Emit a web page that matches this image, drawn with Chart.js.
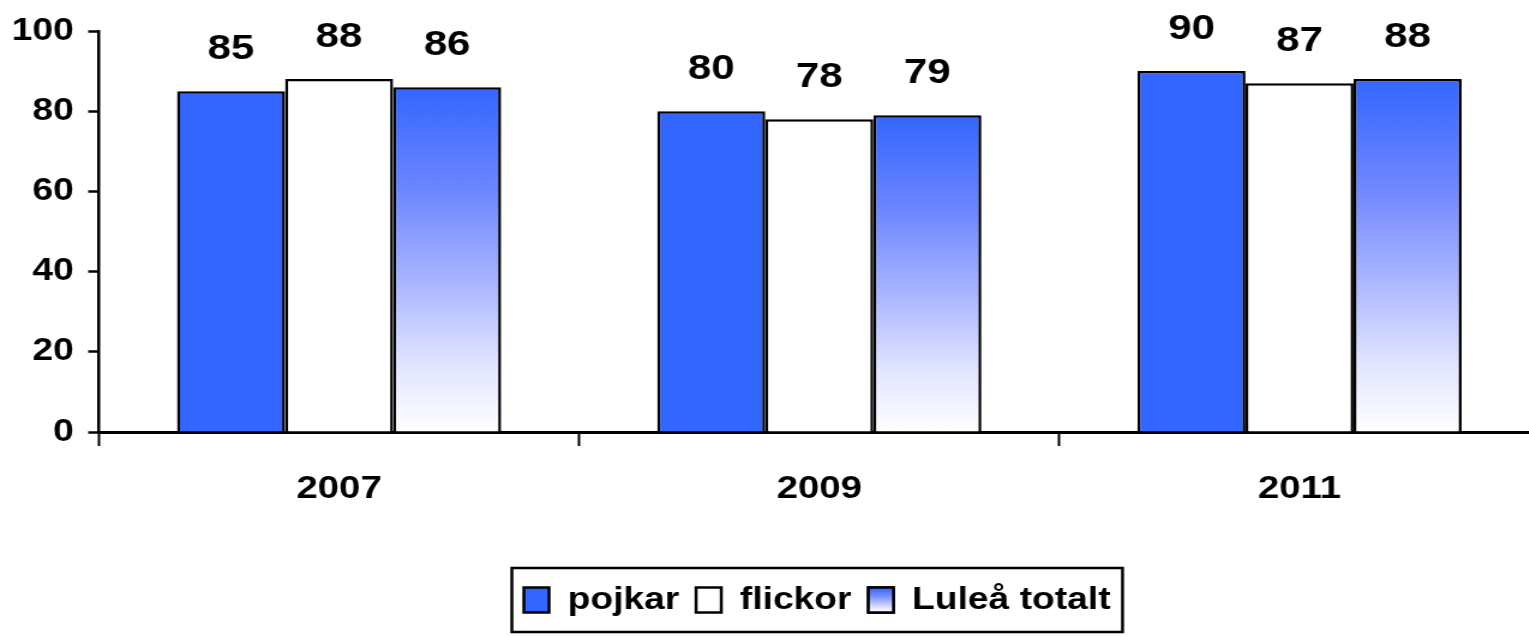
<!DOCTYPE html>
<html>
<head>
<meta charset="utf-8">
<script src="https://cdn.jsdelivr.net/npm/chart.js@4/dist/chart.umd.min.js"></script>
<style>
html,body{margin:0;padding:0;overflow:hidden;background:#fff;width:1529px;height:637px;}
#wrap{width:1283px;height:637px;transform:scaleX(1.2);transform-origin:0 0;}
canvas{display:block;}
</style>
</head>
<body>
<div id="wrap"><canvas id="c" width="1283" height="637"></canvas></div>
<script>
const categories = ['2007', '2009', '2011'];
const pojkar = [85, 80, 90];
const flickor = [88, 78, 87];
const luleaTotalt = [86, 79, 88];
const seriesNames = ['pojkar', 'flickor', 'Luleå totalt'];
const yTicks = [0, 20, 40, 60, 80, 100];

const BLUE = '#3366FF';
const FONT = "'Liberation Sans', Arial, sans-serif";

function addStops(g) {
  g.addColorStop(0, '#3366FF');
  g.addColorStop(0.3, '#6E86FF');
  g.addColorStop(0.55, '#A6B2FF');
  g.addColorStop(0.8, '#E0E4FF');
  g.addColorStop(1, '#FFFFFF');
  return g;
}

function luleaFill(c) {
  const chart = c.chart;
  if (!chart.chartArea || c.type !== 'data' || !c.parsed) return BLUE;
  const y = chart.scales.y;
  const top = y.getPixelForValue(c.parsed.y);
  const bot = y.getPixelForValue(0);
  return addStops(chart.ctx.createLinearGradient(0, top, 0, bot));
}

const valueLabels = {
  id: 'valueLabels',
  afterDatasetsDraw(chart) {
    const ctx = chart.ctx;
    ctx.save();
    ctx.font = 'bold 35px ' + FONT;
    ctx.fillStyle = '#000';
    ctx.textAlign = 'center';
    ctx.textBaseline = 'alphabetic';
    chart.data.datasets.forEach((ds, di) => {
      const meta = chart.getDatasetMeta(di);
      meta.data.forEach((el, i) => {
        ctx.fillText(String(ds.data[i]), el.x, el.y - 32);
      });
    });
    ctx.restore();
  }
};

const legendFrame = {
  id: 'legendFrame',
  afterLayout(chart) {
    const lg = chart.legend;
    if (lg) { lg.left += 39.5; lg.right += 39.5; }
  },
  afterDraw(chart) {
    const lg = chart.legend;
    const hb = lg && lg.legendHitBoxes;
    if (!hb || !hb.length) return;
    const ctx = chart.ctx;
    ctx.save();
    const h = hb[2];
    const bw = 21, bh = 25;
    const by = h.top + (h.height - bh) / 2;
    ctx.fillStyle = addStops(ctx.createLinearGradient(0, by, 0, by + bh));
    ctx.fillRect(h.left, by, bw, bh);
    ctx.lineWidth = 2.5;
    ctx.strokeStyle = '#000';
    ctx.strokeRect(h.left, by, bw, bh);
    const first = hb[0], last = hb[hb.length - 1];
    const cy = first.top + first.height / 2;
    const left = first.left - 10;
    const right = last.left + last.width + 10;
    ctx.lineWidth = 2.5;
    ctx.strokeRect(left, cy - 32, right - left, 64);
    ctx.restore();
  }
};

new Chart(document.getElementById('c'), {
  type: 'bar',
  data: {
    labels: categories,
    datasets: [
      { label: seriesNames[0], data: pojkar, backgroundColor: BLUE, borderColor: '#000', borderWidth: 2.5 },
      { label: seriesNames[1], data: flickor, backgroundColor: '#FFFFFF', borderColor: '#000', borderWidth: 2.5 },
      { label: seriesNames[2], data: luleaTotalt, backgroundColor: luleaFill, borderColor: '#000', borderWidth: 2.5 }
    ]
  },
  options: {
    responsive: false,
    animation: false,
    devicePixelRatio: 1,
    categoryPercentage: 0.675,
    barPercentage: 1,
    layout: { padding: { left: 0, right: 0, top: 31, bottom: 11.5 } },
    plugins: {
      tooltip: { enabled: false },
      legend: {
        position: 'bottom',
        labels: {
          color: '#000',
          font: { family: FONT, size: 31, weight: 'bold' },
          boxWidth: 21,
          boxHeight: 25,
          padding: 14
        }
      }
    },
    scales: {
      x: {
        afterFit(s) { s.height = 138.5; },
        grid: { display: true, drawOnChartArea: false, drawTicks: true, tickLength: 14, tickWidth: 2, tickColor: '#000', offset: true },
        border: { display: true, color: '#000', width: 3 },
        ticks: { color: '#000', padding: 24, font: { family: FONT, size: 32, weight: 'bold' } }
      },
      y: {
        min: 0,
        max: 100,
        afterFit(s) { s.width = 82.5; },
        afterBuildTicks(s) { s.ticks = yTicks.map(v => ({ value: v })); },
        grid: { display: true, drawOnChartArea: false, drawTicks: true, tickLength: 9, tickWidth: 2.5, tickColor: '#000' },
        border: { display: true, color: '#000', width: 2.5 },
        ticks: { color: '#000', padding: 12, font: { family: FONT, size: 31, weight: 'bold' } }
      }
    }
  },
  plugins: [valueLabels, legendFrame]
});
</script>
</body>
</html>
